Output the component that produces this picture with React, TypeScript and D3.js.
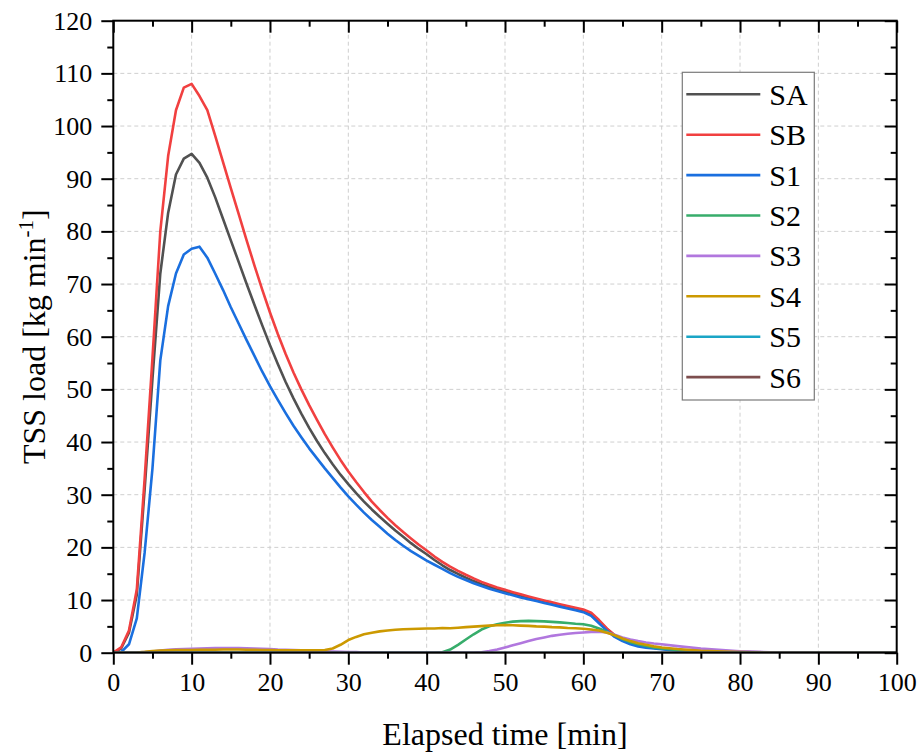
import React, { useEffect, useRef } from "react";
import * as d3 from "d3";

// elapsed time [min]
const time = [
  0, 1, 2, 3, 4, 5, 6, 7, 8, 9, 10,
  11, 12, 13, 14, 15, 16, 17, 18, 19, 20,
  21, 22, 23, 24, 25, 26, 27, 28, 29, 30,
  31, 32, 33, 34, 35, 36, 37, 38, 39, 40,
  41, 42, 43, 44, 45, 46, 47, 48, 49, 50,
  51, 52, 53, 54, 55, 56, 57, 58, 59, 60,
  61, 62, 63, 64, 65, 66, 67, 68, 69, 70,
  72, 75, 80, 85, 90, 95, 100,
];

const SA = [
  0, 0.8, 3.8, 11, 31, 52, 72, 83.5, 90.8, 93.8, 94.7,
  93, 90.2, 86.5, 82.4, 78.3, 74.2, 70.1, 66.1, 62.2, 58.4,
  54.8, 51.4, 48.3, 45.4, 42.7, 40.2, 37.9, 35.8, 33.8, 32.0,
  30.3, 28.7, 27.2, 25.8, 24.5, 23.2, 22.0, 20.8, 19.7, 18.7,
  17.6, 16.6, 15.7, 14.95, 14.25, 13.6, 13.0, 12.5, 12.05, 11.65,
  11.25, 10.85, 10.45, 10.1, 9.75, 9.4, 9.05, 8.7, 8.35, 8.0,
  7.4, 6.0, 4.5, 3.3, 2.5, 1.9, 1.5, 1.2, 0.95, 0.75,
  0.5, 0.3, 0.1, 0.03, 0, 0, 0,
];

const SB = [
  0, 1.0, 4.2, 12, 33, 56, 80, 94.3, 103, 107.3, 108,
  105.7, 103, 98.2, 93.2, 88.2, 83.3, 78.4, 73.6, 69.0, 64.6,
  60.5, 56.7, 53.2, 50.0, 47.0, 44.2, 41.5, 39.0, 36.6, 34.4,
  32.4, 30.5, 28.7, 27.1, 25.6, 24.2, 22.9, 21.7, 20.5, 19.4,
  18.25, 17.25, 16.35, 15.55, 14.8, 14.1, 13.45, 12.9, 12.4, 11.95,
  11.5, 11.08, 10.68, 10.3, 9.93, 9.57, 9.22, 8.87, 8.53, 8.2,
  7.6, 6.2, 4.6, 3.3, 2.5, 1.9, 1.5, 1.2, 0.95, 0.75,
  0.5, 0.3, 0.1, 0.03, 0, 0, 0,
];

const S1 = [
  0, 0.1, 1.6, 6.5, 19, 35, 55.5, 65.8, 72, 75.6, 76.7,
  77.1, 75.0, 72.0, 68.9, 65.6, 62.5, 59.4, 56.4, 53.4, 50.6,
  48.0, 45.5, 43.1, 40.9, 38.8, 36.9, 35.0, 33.2, 31.4, 29.7,
  28.1, 26.6, 25.2, 23.9, 22.6, 21.4, 20.3, 19.3, 18.4, 17.5,
  16.7, 15.9, 15.1, 14.4, 13.8, 13.2, 12.65, 12.15, 11.7, 11.3,
  10.9, 10.5, 10.15, 9.8, 9.45, 9.1, 8.75, 8.4, 8.05, 7.7,
  7.0, 5.6, 4.2, 3.0, 2.2, 1.6, 1.2, 0.95, 0.8, 0.65,
  0.4, 0.2, 0.05, 0, 0, 0, 0,
];

const S2 = [
  0, 0, 0, 0, 0, 0, 0, 0, 0, 0, 0,
  0, 0, 0, 0, 0, 0, 0, 0, 0, 0,
  0, 0, 0, 0, 0, 0, 0, 0, 0, 0,
  0, 0, 0, 0, 0, 0, 0, 0, 0, 0,
  0, 0.1, 0.6, 1.5, 2.5, 3.5, 4.4, 5.0, 5.4, 5.7,
  5.9, 6.0, 6.05, 6.0, 5.95, 5.85, 5.75, 5.65, 5.5, 5.4,
  5.1, 4.6, 4.0, 3.3, 2.6, 2.0, 1.6, 1.3, 1.0, 0.8,
  0.5, 0.25, 0.05, 0, 0, 0, 0,
];

const S3 = [
  0, 0, 0, 0.05, 0.1, 0.2, 0.4, 0.55, 0.65, 0.7, 0.75,
  0.8, 0.85, 0.9, 0.9, 0.9, 0.9, 0.85, 0.8, 0.75, 0.7,
  0.6, 0.55, 0.5, 0.45, 0.4, 0.3, 0.25, 0.2, 0.15, 0.1,
  0.1, 0.05, 0.05, 0, 0, 0, 0, 0, 0, 0,
  0, 0, 0, 0, 0, 0, 0.1, 0.3, 0.6, 1.0,
  1.4, 1.8, 2.2, 2.6, 2.9, 3.2, 3.4, 3.6, 3.75, 3.85,
  3.95, 4.0, 3.85, 3.4, 2.9, 2.5, 2.2, 1.95, 1.75, 1.6,
  1.25, 0.8, 0.25, 0.05, 0, 0, 0,
];

const S4 = [
  0, 0, 0, 0.05, 0.15, 0.3, 0.4, 0.45, 0.5, 0.5, 0.5,
  0.55, 0.55, 0.55, 0.6, 0.6, 0.6, 0.55, 0.55, 0.5, 0.5,
  0.45, 0.45, 0.45, 0.45, 0.45, 0.45, 0.5, 0.8, 1.5, 2.4,
  3.0, 3.5, 3.8, 4.05, 4.2, 4.35, 4.45, 4.5, 4.55, 4.6,
  4.6, 4.7, 4.65, 4.75, 4.85, 4.95, 5.05, 5.15, 5.2, 5.25,
  5.2, 5.15, 5.1, 5.0, 4.95, 4.85, 4.8, 4.7, 4.65, 4.55,
  4.4, 4.2, 3.8, 3.3, 2.7, 2.2, 1.8, 1.5, 1.2, 1.0,
  0.7, 0.35, 0.1, 0, 0, 0, 0,
];

// S5 and S6 stay on the zero line in the figure
const S5 = time.map(() => 0);
const S6 = time.map(() => 0);

const seriesNames = ["SA", "SB", "S1", "S2", "S3", "S4", "S5", "S6"];
const seriesValues = [SA, SB, S1, S2, S3, S4, S5, S6];
const seriesColors = ["#515151", "#F14040", "#1A6FDF", "#37AD6B", "#B177DE", "#CC9900", "#1AA5C6", "#7D4E4E"];

const xTicks = [0, 10, 20, 30, 40, 50, 60, 70, 80, 90, 100];
const yTicks = [0, 10, 20, 30, 40, 50, 60, 70, 80, 90, 100, 110, 120];

const W = 919;
const H = 753;
const FONT = "'Liberation Serif', 'Times New Roman', serif";

const App = () => {
  const ref = useRef<SVGSVGElement>(null);

  useEffect(() => {
    document.body.style.margin = "0";
    const svg = d3.select(ref.current);
    svg.selectAll("*").remove();

    const left = 113.3, right = 896.7, top = 20.7, bottom = 652.7;

    const x = d3.scaleLinear().domain([0, 100]).range([left, right]);
    const y = d3.scaleLinear().domain([0, 120]).range([bottom, top]);

    svg.append("rect").attr("width", W).attr("height", H).attr("fill", "#fff");

    // dashed grid
    const grid = svg.append("g").attr("stroke", "#cfcfcf").attr("stroke-dasharray", "4,3").attr("stroke-width", 1);
    grid.selectAll("line.gx")
      .data(xTicks.slice(1, -1))
      .enter().append("line")
      .attr("x1", d => x(d)).attr("x2", d => x(d))
      .attr("y1", top).attr("y2", bottom);
    grid.selectAll("line.gy")
      .data(yTicks.slice(1, -1))
      .enter().append("line")
      .attr("x1", left).attr("x2", right)
      .attr("y1", d => y(d)).attr("y2", d => y(d));

    // series
    svg.append("clipPath").attr("id", "plotclip")
      .append("rect").attr("x", left).attr("y", top).attr("width", right - left).attr("height", bottom - top);

    const line = d3.line<number>()
      .x((_, i) => x(time[i]))
      .y(d => y(d));

    const lines = svg.append("g").attr("clip-path", "url(#plotclip)");
    seriesValues.forEach((vals, i) => {
      lines.append("path")
        .datum(vals)
        .attr("fill", "none")
        .attr("stroke", seriesColors[i])
        .attr("stroke-width", 2.6)
        .attr("stroke-linejoin", "round")
        .attr("d", line);
    });

    // axes: bottom / left outward, top / right inward
    const minorX = d3.range(5, 100, 10);
    const minorY = d3.range(5, 120, 10);

    const styleAxis = (g: any) => {
      g.select(".domain").remove();
      g.selectAll("line").attr("stroke", "#000").attr("stroke-width", 2);
      g.selectAll("text").attr("font-family", FONT).attr("font-size", 26).attr("fill", "#000");
    };

    svg.append("g").attr("transform", `translate(0,${bottom})`)
      .call(d3.axisBottom(x).tickValues(xTicks).tickSize(12).tickPadding(8).tickFormat(d3.format("d")))
      .call(styleAxis);
    svg.append("g").attr("transform", `translate(0,${bottom})`)
      .call(d3.axisBottom(x).tickValues(minorX).tickSize(6).tickFormat(() => ""))
      .call(styleAxis);
    svg.append("g").attr("transform", `translate(${left},0)`)
      .call(d3.axisLeft(y).tickValues(yTicks).tickSize(12).tickPadding(9).tickFormat(d3.format("d")))
      .call(styleAxis);
    svg.append("g").attr("transform", `translate(${left},0)`)
      .call(d3.axisLeft(y).tickValues(minorY).tickSize(6).tickFormat(() => ""))
      .call(styleAxis);
    svg.append("g").attr("transform", `translate(0,${top})`)
      .call(d3.axisBottom(x).tickValues(xTicks).tickSize(12).tickFormat(() => ""))
      .call(styleAxis);
    svg.append("g").attr("transform", `translate(0,${top})`)
      .call(d3.axisBottom(x).tickValues(minorX).tickSize(6).tickFormat(() => ""))
      .call(styleAxis);
    svg.append("g").attr("transform", `translate(${right},0)`)
      .call(d3.axisLeft(y).tickValues(yTicks).tickSize(12).tickFormat(() => ""))
      .call(styleAxis);
    svg.append("g").attr("transform", `translate(${right},0)`)
      .call(d3.axisLeft(y).tickValues(minorY).tickSize(6).tickFormat(() => ""))
      .call(styleAxis);

    svg.append("rect")
      .attr("x", left).attr("y", top)
      .attr("width", right - left).attr("height", bottom - top)
      .attr("fill", "none").attr("stroke", "#000").attr("stroke-width", 2);

    // axis titles
    svg.append("text")
      .attr("x", (left + right) / 2).attr("y", 745)
      .attr("text-anchor", "middle")
      .attr("font-family", FONT).attr("font-size", 32)
      .text("Elapsed time [min]");

    const yt = svg.append("text")
      .attr("transform", `translate(45,${(top + bottom) / 2}) rotate(-90)`)
      .attr("text-anchor", "middle")
      .attr("font-family", FONT).attr("font-size", 32);
    yt.append("tspan").text("TSS load [kg min");
    yt.append("tspan").attr("font-size", 21).attr("dy", -12).text("-1");
    yt.append("tspan").attr("dy", 12).text("]");

    // legend
    const lx = 682.3, ly = 72.3, step = 40.4;
    svg.append("rect")
      .attr("x", lx).attr("y", ly).attr("width", 132).attr("height", 327.7)
      .attr("fill", "#fff").attr("stroke", "#7a7a7a").attr("stroke-width", 1.2);
    const items = svg.append("g").selectAll("g")
      .data(seriesNames)
      .enter().append("g")
      .attr("transform", (_, i) => `translate(0,${ly + 22 + i * step})`);
    items.append("line")
      .attr("x1", lx + 4).attr("x2", lx + 78)
      .attr("stroke", (_, i) => seriesColors[i]).attr("stroke-width", 2.6);
    items.append("text")
      .attr("x", lx + 87).attr("dy", "0.35em")
      .attr("font-family", FONT).attr("font-size", 30)
      .text(d => d);
  }, []);

  return <svg ref={ref} width={W} height={H} style={{ display: "block" }}></svg>;
};

export default App;
